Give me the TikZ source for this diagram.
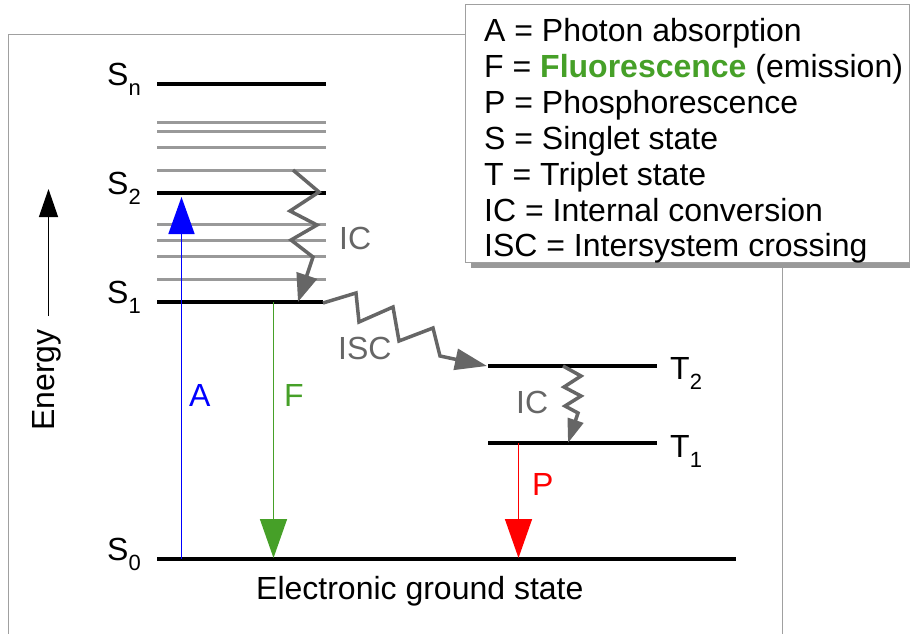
\documentclass[tikz,border=0pt]{standalone}
\usepackage{fontspec}
\setmainfont{Liberation Sans}
\usetikzlibrary{arrows.meta}
\definecolor{icgray}{RGB}{102,102,102}
\definecolor{levgray}{RGB}{153,153,153}
\definecolor{fgreen}{RGB}{70,160,40}
\definecolor{framegray}{RGB}{160,160,160}
\newcommand{\lvsub}[1]{\raisebox{-10pt}{\fontsize{22}{22}\selectfont #1}}
\begin{document}
\begin{tikzpicture}[x=1pt,y=-1pt,
  lab/.style={anchor=base west, inner sep=0pt, font=\fontsize{32}{36}\selectfont},
  level/.style={line width=4pt, black},
  sublevel/.style={line width=3pt, levgray},
  absorb/.style={blue, line width=1.5pt, -{Triangle[length=37pt,width=26pt]}},
  fluor/.style={fgreen, line width=1.5pt, -{Triangle[length=39pt,width=27pt]}},
  phos/.style={red, line width=1.5pt, -{Triangle[length=39pt,width=27pt]}},
  icarrow/.style={icgray, line width=3.5pt, -{Triangle[length=28pt,width=21pt]}},
  iscarrow/.style={icgray, line width=3.5pt, -{Triangle[length=32pt,width=21pt]}},
  icsmall/.style={icgray, line width=3.5pt, -{Triangle[length=24pt,width=16pt]}},
  energyarrow/.style={black, line width=1.3pt, -{Triangle[length=28pt,width=19pt]}},
]
\useasboundingbox (0,0) rectangle (910,634);
\clip (0,0) rectangle (910,634);

% outer frame
\draw[framegray, line width=1.2pt] (8.5,660) -- (8.5,34.5) -- (782.5,34.5) -- (782.5,660);

% singlet sublevels
\foreach \yy in {122,131,147,170,224,240,256,279}
  \draw[sublevel] (157,\yy) -- (326,\yy);

% levels
\coordinate (snL) at (157,84);  \coordinate (snR) at (326,84);
\coordinate (s2L) at (157,193); \coordinate (s2R) at (326,193);
\coordinate (s1L) at (157,302); \coordinate (s1R) at (323,302);
\coordinate (t2L) at (488,366); \coordinate (t2R) at (657,366);
\coordinate (t1L) at (488,443); \coordinate (t1R) at (657,443);
\coordinate (s0L) at (157,559); \coordinate (s0R) at (736,559);
\draw[level] (snL) -- (snR);
\draw[level] (s2L) -- (s2R);
\draw[level] (s1L) -- (s1R);
\draw[level] (t2L) -- (t2R);
\draw[level] (t1L) -- (t1R);
\draw[level] (s0L) -- (s0R);

% level labels
\node[lab] (lsn) at (107,85) {S\lvsub{n}};
\node[lab] (ls2) at (107,194) {S\lvsub{2}};
\node[lab] (ls1) at (107,303) {S\lvsub{1}};
\node[lab] (ls0) at (107,560) {S\lvsub{0}};
\node[lab] (lt2) at (670,379) {T\lvsub{2}};
\node[lab] (lt1) at (670,457) {T\lvsub{1}};
\node[lab] (lground) at (256,599) {Electronic ground state};

% energy axis
\coordinate (e0) at (48.5,316);
\coordinate (e1) at (48.5,189);
\draw[energyarrow] (e0) -- (e1);
\node[lab, rotate=90] (lenergy) at (54,431) {Energy};

% absorption
\coordinate (a0) at (181.5,559);
\coordinate (a1) at (181.5,197);
\draw[absorb] (a0) -- (a1);
\node[lab, text=blue] (la) at (189,406) {A};

% fluorescence
\coordinate (f0) at (273.5,302);
\coordinate (f1) at (273.5,558);
\draw[fluor] (f0) -- (f1);
\node[lab, text=fgreen] (lf) at (284,406) {F};

% phosphorescence
\coordinate (p0) at (518.5,443);
\coordinate (p1) at (518.5,558);
\draw[phos] (p0) -- (p1);
\node[lab, text=red] (lp) at (532,495) {P};

% internal conversion S2 -> S1
\coordinate (ic0) at (293,170);
\coordinate (ic1) at (298,302);
\draw[icarrow] (ic0) -- (319,192) -- (290,211) -- (317,225) -- (291,240) -- (313,257) -- (ic1);
\node[lab, text=icgray] (lic1) at (339,249) {IC};

% intersystem crossing S1 -> T2
\coordinate (isc0) at (323,303);
\coordinate (isc1) at (487,366);
\draw[iscarrow] (isc0) -- (356,293) -- (359,322) -- (393,307) -- (399,341) -- (433,328) -- (440,356) -- (isc1);
\node[lab, text=icgray] (lisc) at (338,359) {ISC};

% internal conversion T2 -> T1
\coordinate (it0) at (563,366);
\coordinate (it1) at (568,443);
\draw[icsmall] (it0) -- (581,376) -- (564,387) -- (581,396) -- (565,406) -- (578,413) -- (it1);
\node[lab, text=icgray] (lic2) at (516,413) {IC};

% legend
\fill[levgray] (471,10) rectangle (916,268);
\draw[framegray, fill=white, line width=1.2pt] (465.5,4.5) rectangle (909.5,262.5);
\node[lab] (leg1) at (484,42) {A = Photon absorption};
\node[lab] (leg2) at (484,77.8) {F = \textcolor{fgreen}{\textbf{Fluorescence}} (emission)};
\node[lab] (leg3) at (484,113.6) {P = Phosphorescence};
\node[lab] (leg4) at (484,149.4) {S = Singlet state};
\node[lab] (leg5) at (484,185.2) {T = Triplet state};
\node[lab] (leg6) at (484,221) {IC = Internal conversion};
\node[lab] (leg7) at (484,256.8) {ISC = Intersystem crossing};
\end{tikzpicture}
\end{document}
